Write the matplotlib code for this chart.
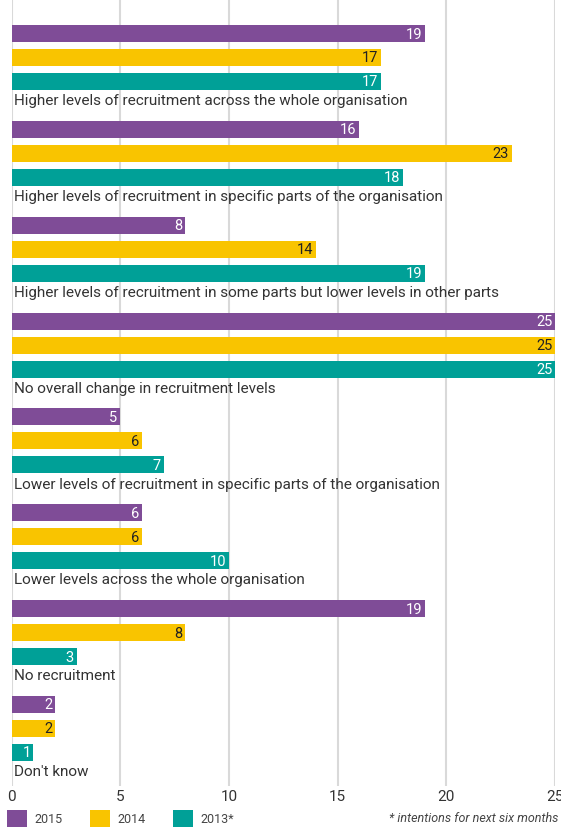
import matplotlib.pyplot as plt
from matplotlib.patches import Patch

# recruitment intentions, % of respondents
categories = [
    'Higher levels of recruitment across the whole organisation',
    'Higher levels of recruitment in specific parts of the organisation',
    'Higher levels of recruitment in some parts but lower levels in other parts',
    'No overall change in recruitment levels',
    'Lower levels of recruitment in specific parts of the organisation',
    'Lower levels across the whole organisation',
    'No recruitment',
    "Don't know",
]
years = ['2015', '2014', '2013*']
v2015 = [19, 16, 8, 25, 5, 6, 19, 2]
v2014 = [17, 23, 14, 25, 6, 6, 8, 2]
v2013 = [17, 18, 19, 25, 7, 10, 3, 1]
x_ticks = [0, 5, 10, 15, 20, 25]

colors = ['#7f4c97', '#f9c400', '#00a097']
value_colors = ['white', '#222222', 'white']
series = [v2015, v2014, v2013]

plt.rcParams['font.family'] = ['Roboto', 'DejaVu Sans']

fig = plt.figure(figsize=(5.61, 8.27), dpi=100)
ax = fig.add_axes([11.5 / 561, 41 / 827, 543.5 / 561, 786 / 827])

# each group: 3 bar rows + 1 row for the category text
for g, cat in enumerate(categories):
    base = g * 4
    for k, vals in enumerate(series):
        y = base + k
        ax.barh(y, vals[g], height=0.71, color=colors[k], zorder=2)
        ax.text(vals[g] - 0.12, y + 0.04, str(vals[g]), ha='right', va='center',
                fontsize=10.5, color=value_colors[k], zorder=3)
    ax.text(0.1, base + 2.82, cat, ha='left', va='center', fontsize=11,
            color='#333333', zorder=3)

ax.set_xlim(0, 25)
ax.set_ylim(31.4, -1.4)
ax.set_xticks(x_ticks)
ax.set_xticklabels([str(t) for t in x_ticks], fontsize=11, color='#333333')
ax.tick_params(axis='x', length=0, pad=3)
ax.set_yticks([])
ax.grid(axis='x', color='#d9d9d9', linewidth=1.5, zorder=0)
for s in ax.spines.values():
    s.set_visible(False)

handles = [Patch(facecolor=c, edgecolor='none') for c in colors]
fig.legend(handles, years, loc='upper left', bbox_to_anchor=(0.003, 0.026),
           ncol=3, frameon=False, fontsize=9, handlelength=1.6, handleheight=1.6,
           handletextpad=0.6, columnspacing=2.2, borderaxespad=0,
           labelcolor='#444444')
fig.text(0.995, 0.003, '* intentions for next six months', ha='right', va='bottom',
         fontsize=9, style='italic', color='#444444')

fig.savefig('out.png', dpi=100)
